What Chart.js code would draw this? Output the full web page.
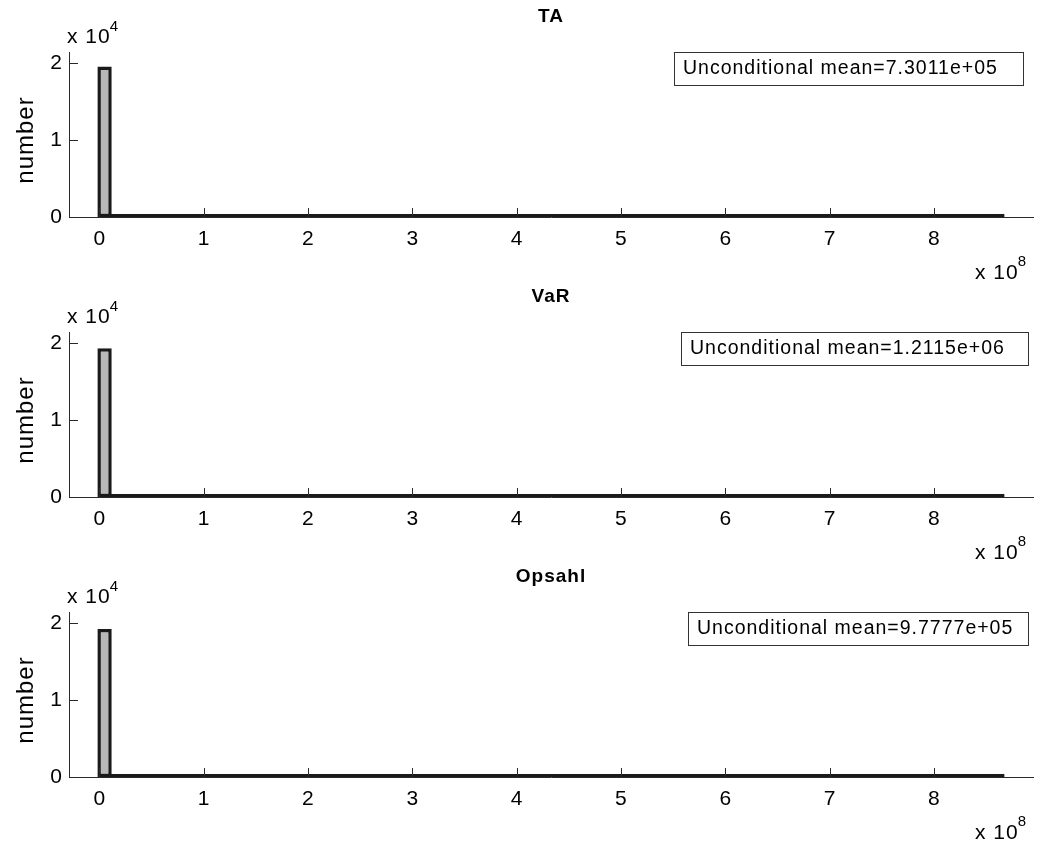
<!DOCTYPE html>
<html>
<head>
<meta charset="utf-8">
<title>Histograms</title>
<script src="https://cdn.jsdelivr.net/npm/chart.js@4.4.1/dist/chart.umd.min.js"></script>
<style>
  body { margin: 0; background: #fff; }
  #wrap { position: relative; width: 1040px; height: 854px; }
  .panel { position: absolute; left: 0; width: 1040px; height: 280px; }
</style>
</head>
<body>
<div id="wrap">
  <div class="panel" style="top:0px"><canvas id="c0"></canvas></div>
  <div class="panel" style="top:280px"><canvas id="c1"></canvas></div>
  <div class="panel" style="top:560px"><canvas id="c2"></canvas></div>
</div>
<script>
// Panel titles and legend texts
const panelTitles = ['TA', 'VaR', 'Opsahl'];
const meanLabels = [
  'Unconditional mean=7.3011e+05',
  'Unconditional mean=1.2115e+06',
  'Unconditional mean=9.7777e+05',
];

// Histogram range (all three share the same bins)
const histMin = 0;
const histMax = 8.66e8;

// Counts per bin, 85 bins
const taCounts = [
  19520, 260, 62, 28, 14, 9, 6, 4, 3, 3,
  2, 2, 1, 2, 1, 1, 0, 1, 1, 0,
  1, 0, 0, 1, 0, 1, 0, 0, 1, 0,
  0, 0, 1, 0, 0, 1, 0, 0, 0, 1,
  0, 0, 0, 0, 1, 0, 0, 0, 1, 0,
  0, 0, 0, 0, 1, 0, 0, 0, 0, 1,
  0, 0, 0, 0, 0, 0, 1, 0, 0, 0,
  0, 0, 0, 1, 0, 0, 0, 0, 0, 0,
  0, 0, 0, 0, 1,
];
const varCounts = [
  19290, 340, 95, 40, 20, 12, 8, 6, 4, 4,
  3, 2, 2, 2, 1, 2, 1, 1, 0, 1,
  1, 0, 1, 0, 1, 0, 1, 0, 0, 1,
  0, 1, 0, 0, 1, 0, 0, 1, 0, 0,
  1, 0, 0, 0, 1, 0, 0, 1, 0, 0,
  0, 1, 0, 0, 0, 0, 1, 0, 0, 0,
  1, 0, 0, 0, 0, 1, 0, 0, 0, 0,
  0, 1, 0, 0, 0, 0, 0, 1, 0, 0,
  0, 0, 0, 0, 1,
];
const opsahlCounts = [
  19200, 330, 80, 34, 17, 10, 7, 5, 4, 3,
  3, 2, 2, 1, 1, 1, 1, 0, 1, 1,
  0, 1, 0, 1, 0, 0, 1, 0, 1, 0,
  0, 1, 0, 0, 0, 1, 0, 0, 1, 0,
  0, 0, 1, 0, 0, 0, 1, 0, 0, 0,
  0, 1, 0, 0, 0, 0, 1, 0, 0, 0,
  0, 0, 1, 0, 0, 0, 0, 0, 1, 0,
  0, 0, 0, 0, 0, 1, 0, 0, 0, 0,
  0, 0, 0, 0, 1,
];
const panelCounts = [taCounts, varCounts, opsahlCounts];

// Tick positions (axis units) and the exponent shown next to each axis
const xTickValues = [0, 1e8, 2e8, 3e8, 4e8, 5e8, 6e8, 7e8, 8e8];
const yTickValues = [0, 1e4, 2e4];
const xExponent = '8';
const yExponent = '4';

// Styling
const fontFamily = '"Liberation Sans", Arial, Helvetica, sans-serif';
const axisColor = '#2a2a2a';
const barFill = '#b8b8b8';
const barEdge = '#1a1a1a';
const legendLeft = [674, 681, 688];
const legendRight = [1023, 1028, 1028];

// Bin centres from the histogram range
const binWidth = (histMax - histMin) / taCounts.length;
const binCenters = taCounts.map((c, i) => histMin + binWidth * (i + 0.5));

// Draws inward ticks, title, exponents, axis label and legend box
const decorations = {
  id: 'decorations',
  afterDraw(chart, args, opts) {
    const { ctx, chartArea } = chart;
    const x = chart.scales.x;
    const y = chart.scales.y;
    ctx.save();

    // inward tick marks
    ctx.strokeStyle = axisColor;
    ctx.lineWidth = 1;
    ctx.beginPath();
    xTickValues.forEach((v) => {
      const px = Math.round(x.getPixelForValue(v)) + 0.5;
      ctx.moveTo(px, chartArea.bottom);
      ctx.lineTo(px, chartArea.bottom - 9);
    });
    yTickValues.forEach((v) => {
      const py = Math.round(y.getPixelForValue(v)) + 0.5;
      ctx.moveTo(chartArea.left, py);
      ctx.lineTo(chartArea.left + 9, py);
    });
    ctx.stroke();

    ctx.fillStyle = '#000';
    ctx.letterSpacing = '1px';

    // title
    ctx.font = 'bold 19px ' + fontFamily;
    ctx.textAlign = 'center';
    ctx.textBaseline = 'alphabetic';
    ctx.fillText(opts.title, (chartArea.left + chartArea.right) / 2, 22);

    // y exponent
    ctx.textAlign = 'left';
    ctx.font = '21px ' + fontFamily;
    ctx.fillText('x 10', 67, 43);
    let w = ctx.measureText('x 10').width;
    ctx.font = '15px ' + fontFamily;
    ctx.fillText(yExponent, 66 + w, 31);

    // x exponent
    ctx.font = '21px ' + fontFamily;
    ctx.fillText('x 10', 975, 279);
    w = ctx.measureText('x 10').width;
    ctx.font = '15px ' + fontFamily;
    ctx.fillText(xExponent, 974 + w, 266);

    // y axis label
    ctx.save();
    ctx.translate(33, 140);
    ctx.rotate(-Math.PI / 2);
    ctx.textAlign = 'center';
    ctx.font = '24px ' + fontFamily;
    ctx.fillText('number', 0, 0);
    ctx.restore();

    // legend box
    const left = legendLeft[opts.index];
    const right = legendRight[opts.index];
    ctx.fillStyle = '#fff';
    ctx.fillRect(left, 52, right - left, 33);
    ctx.strokeStyle = '#333';
    ctx.strokeRect(left + 0.5, 52.5, right - left, 33);
    ctx.fillStyle = '#000';
    ctx.font = '19.5px ' + fontFamily;
    ctx.textBaseline = 'middle';
    ctx.fillText(opts.legend, left + 9, 69);

    ctx.restore();
  },
};

const renderPanel = function renderHistogramPanel(index) {
  const counts = panelCounts[index];
  const points = counts.map((c, i) => ({ x: binCenters[i], y: c }));

  new Chart(document.getElementById('c' + index), {
    type: 'bar',
    data: {
      datasets: [
        {
          data: points,
          backgroundColor: barFill,
          borderColor: barEdge,
          borderWidth: 3.5,
          borderSkipped: false,
          minBarLength: 3,
          barPercentage: 1.35,
          categoryPercentage: 1,
        },
      ],
    },
    options: {
      responsive: true,
      maintainAspectRatio: false,
      animation: false,
      layout: { padding: { top: 52, right: 7, left: 0, bottom: 0 } },
      plugins: {
        legend: { display: false },
        tooltip: { enabled: false },
        decorations: {
          index: index,
          title: panelTitles[index],
          legend: meanLabels[index],
        },
      },
      scales: {
        x: {
          type: 'linear',
          offset: false,
          min: -0.29e8,
          max: 8.95e8,
          grid: { display: false, drawTicks: false, offset: false },
          border: { display: true, color: axisColor, width: 1 },
          afterFit: (scale) => { scale.height = 63; },
          afterBuildTicks: (scale) => {
            scale.ticks = xTickValues.map((v) => ({ value: v }));
          },
          ticks: {
            autoSkip: false,
            maxRotation: 0,
            padding: 10,
            color: '#000',
            font: { family: fontFamily, size: 21 },
            callback: (v) => v / 1e8,
          },
        },
        y: {
          min: 0,
          max: 2.14e4,
          grid: { display: false, drawTicks: false },
          border: { display: true, color: axisColor, width: 1 },
          afterFit: (scale) => { scale.width = 69; },
          afterBuildTicks: (scale) => {
            scale.ticks = yTickValues.map((v) => ({ value: v }));
          },
          ticks: {
            autoSkip: false,
            padding: 7,
            color: '#000',
            font: { family: fontFamily, size: 21 },
            callback: (v) => v / 1e4,
          },
        },
      },
    },
    plugins: [decorations],
  });
};

[0, 1, 2].forEach(renderPanel);
</script>
</body>
</html>
